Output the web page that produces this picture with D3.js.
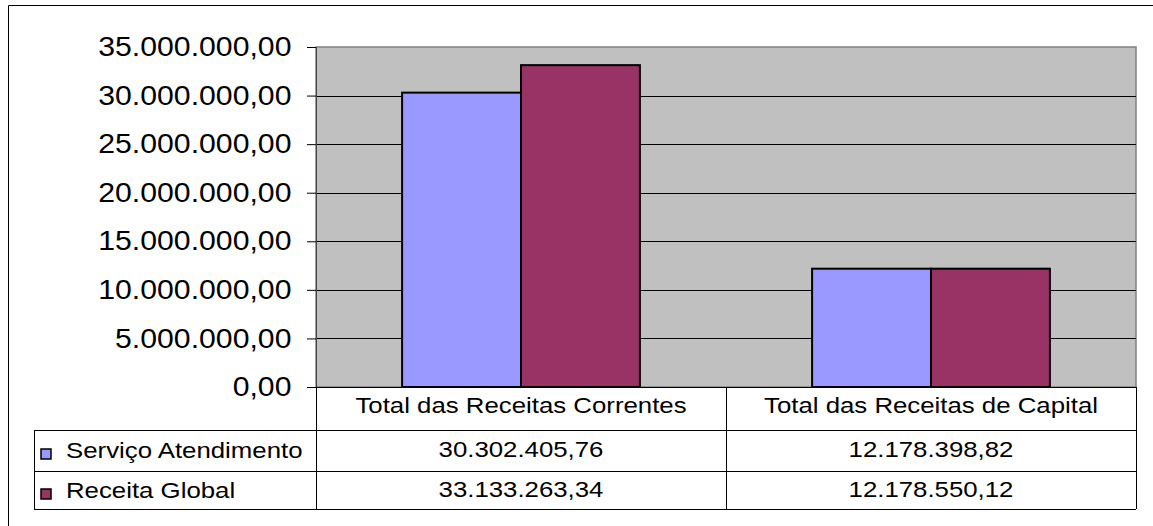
<!DOCTYPE html>
<html>
<head>
<meta charset="utf-8">
<script src="https://cdn.jsdelivr.net/npm/d3@7"></script>
<style>
  body { margin: 0; background: #fff; }
  svg { display: block; font-family: "Liberation Sans", Arial, sans-serif; }
</style>
</head>
<body>
<div id="chart"></div>
<script>
// data
const categories = ["Total das Receitas Correntes", "Total das Receitas de Capital"];
const seriesNames = ["Serviço Atendimento", "Receita Global"];
const servicoValues = [30302405.76, 12178398.82];
const globalValues = [33133263.34, 12178550.12];
const yTicks = [0, 5e6, 10e6, 15e6, 20e6, 25e6, 30e6, 35e6];
const colors = ["#9999FF", "#993366"];

const width = 1153, height = 526;
const svg = d3.select("#chart").append("svg").attr("width", width).attr("height", height);

const plot = { left: 316, right: 1136, top: 47, bottom: 387 };
const table = { left: 34, rowH: [43, 41, 38] };

const ptBR = d3.formatLocale({ decimal: ",", thousands: ".", grouping: [3], currency: ["R$", ""] });
const fmt = ptBR.format(",.2f");

const x0 = d3.scaleBand().domain(categories).range([plot.left, plot.right]).paddingInner(0.42).paddingOuter(0.21);
const x1 = d3.scaleBand().domain(seriesNames).range([0, x0.bandwidth()]);
const y = d3.scaleLinear().domain([0, 35e6]).range([plot.bottom, plot.top]);
// edges of category cells (full step)
const cellX = d3.scaleBand().domain(categories).range([plot.left, plot.right]);

// outer frame
svg.append("path").attr("d", `M8.5,${height} V5.5 H${width}`).attr("fill", "none").attr("stroke", "#000").attr("stroke-width", 1);

// plot background
svg.append("rect")
  .attr("x", plot.left).attr("y", plot.top)
  .attr("width", plot.right - plot.left).attr("height", plot.bottom - plot.top)
  .attr("fill", "#C0C0C0").attr("stroke", "#808080").attr("stroke-width", 1.5);

// gridlines
svg.append("g").selectAll("line").data(yTicks.filter(d => d > 0 && d < 35e6)).join("line")
  .attr("x1", plot.left).attr("x2", plot.right)
  .attr("y1", d => Math.round(y(d)) + 0.5).attr("y2", d => Math.round(y(d)) + 0.5)
  .attr("stroke", "#000").attr("stroke-width", 1);

// y axis
const yAxis = svg.append("g").attr("transform", `translate(${plot.left},0)`)
  .call(d3.axisLeft(y).tickValues(yTicks).tickFormat(fmt).tickSize(9).tickPadding(16));
yAxis.attr("font-size", null).attr("font-family", null);
yAxis.select(".domain").attr("stroke", "#444");
yAxis.selectAll(".tick line").attr("stroke", "#000");
yAxis.selectAll(".tick text")
  .style("font-size", "27px").attr("fill", "#000")
  .attr("x", 0)
  .attr("transform", "translate(-24.5,0) scale(1.12,1)");

// bars
const groups = svg.append("g").selectAll("g").data(categories).join("g")
  .attr("transform", d => `translate(${x0(d)},0)`);
groups.selectAll("rect")
  .data((d, i) => [servicoValues[i], globalValues[i]].map((v, k) => ({ key: seriesNames[k], v, k })))
  .join("rect")
  .attr("x", d => x1(d.key)).attr("width", x1.bandwidth())
  .attr("y", d => y(d.v)).attr("height", d => y(0) - y(d.v))
  .attr("fill", d => colors[d.k]).attr("stroke", "#000").attr("stroke-width", 2);

// baseline
svg.append("line").attr("x1", plot.left - 9).attr("x2", plot.right)
  .attr("y1", plot.bottom + 0.5).attr("y2", plot.bottom + 0.5).attr("stroke", "#000");

// data table
const rowTop = [plot.bottom, plot.bottom + table.rowH[0], plot.bottom + table.rowH[0] + table.rowH[1]];
const tableBottom = rowTop[2] + table.rowH[2];
const lines = svg.append("g").attr("stroke", "#000").attr("stroke-width", 1);
[rowTop[1], rowTop[2], tableBottom].forEach(yy => {
  lines.append("line").attr("x1", table.left).attr("x2", plot.right).attr("y1", yy + 0.5).attr("y2", yy + 0.5);
});
lines.append("line").attr("x1", table.left + 0.5).attr("x2", table.left + 0.5).attr("y1", rowTop[1]).attr("y2", tableBottom);
[plot.left, cellX(categories[1]), plot.right].forEach(xx => {
  lines.append("line").attr("x1", xx + 0.5).attr("x2", xx + 0.5).attr("y1", plot.bottom).attr("y2", tableBottom);
});

function stretchText(g, x, yy, txt, anchor) {
  g.append("text")
    .attr("transform", `translate(${x},${yy}) scale(1.2,1)`)
    .attr("text-anchor", anchor).attr("font-size", 21.5).attr("fill", "#000")
    .text(txt);
}

const tg = svg.append("g");
categories.forEach((c, i) => {
  const cx = cellX(c) + cellX.bandwidth() / 2;
  stretchText(tg, cx, rowTop[0] + 26, c, "middle");
  stretchText(tg, cx, rowTop[1] + 27, fmt(servicoValues[i]), "middle");
  stretchText(tg, cx, rowTop[2] + 26, fmt(globalValues[i]), "middle");
});
seriesNames.forEach((s, k) => {
  const ry = rowTop[k + 1];
  const keyY = k === 0 ? ry + 19 : ry + 18;
  tg.append("rect").attr("x", 41).attr("y", keyY).attr("width", 10).attr("height", 10)
    .attr("fill", colors[k]).attr("stroke", "#000").attr("stroke-width", 1.5);
  stretchText(tg, 66, k === 0 ? ry + 28 : ry + 27, s, "start");
});
</script>
</body>
</html>
